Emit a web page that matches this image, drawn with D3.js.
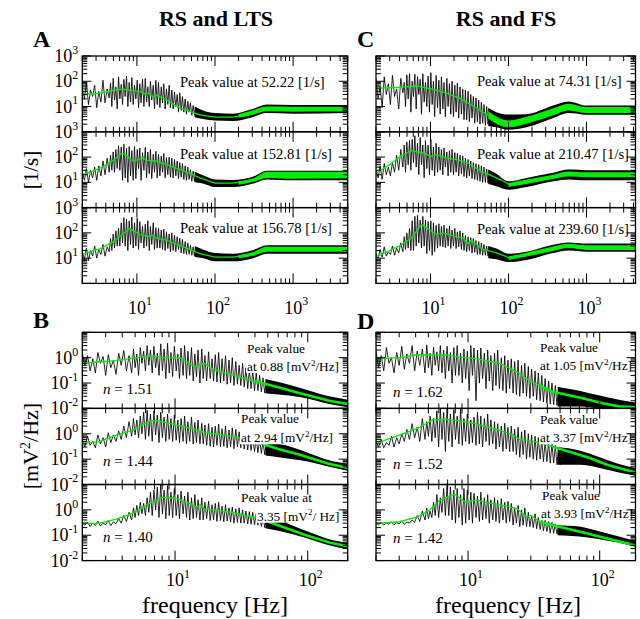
<!DOCTYPE html>
<html><head><meta charset="utf-8">
<script src="https://cdn.jsdelivr.net/npm/d3@7"></script>
<style>body{margin:0;background:#fff} text{font-family:"Liberation Serif","Times New Roman",serif;fill:#000}</style>
</head><body><svg id="c" width="640" height="619"></svg>
<script>
// ---------- frequency grids of the raw (noisy) spectra ----------
const fAC = [2.0,2.13,2.26,2.4,2.55,2.71,2.88,3.06,3.25,3.46, 3.68,3.91,4.16,4.42,4.6,4.78,4.97,5.17,5.38,5.6,
  5.82,6.05,6.3,6.55,6.81,7.08,7.37,7.66,7.97,8.29, 8.62,8.96,9.32,9.7,10.1,10.5,10.9,11.3,11.8,12.3,
  12.8,13.3,13.8,14.4,14.9,15.5,16.2,16.8,17.5,18.2, 18.9,19.7,20.5,21.3,22.1,23,23.9,24.9,25.9,26.9,
  28,29.1,30.3,31.5,32.8,34.1,35.4,36.9,38.3,39.9, 41.5,43.1,44.9,46.6,48.5,50.5,52.5,54.6,56.7,59];
const fBD = [2.0,2.09,2.19,2.29,2.4,2.51,2.62,2.74,2.87,3.0, 3.14,3.28,3.43,3.59,3.76,3.93,4.11,4.3,4.5,4.71,
  4.86,5.0,5.15,5.31,5.47,5.63,5.8,5.98,6.16,6.34, 6.53,6.73,6.93,7.14,7.35,7.57,7.8,8.03,8.27,8.52,
  8.78,9.04,9.31,9.59,9.88,10.2,10.5,10.8,11.1,11.5, 11.8,12.2,12.5,12.9,13.3,13.7,14.1,14.5,14.9,15.4,
  15.9,16.3,16.8,17.3,17.9,18.4,19,19.5,20.1,20.7, 21.3,22,22.6,23.3,24,24.7,25.5,26.2,27,27.8,
  28.7,29.5,30.4,31.3,32.3,33.2,34.2,35.3,36.3,37.4, 38.5,39.7,40.9,42.1,43.4,44.7,46,47.4,48.8,50.3];

// ---------- A: RS and LTS, rate spectra [1/s] ----------
const A1_noise = [55,20,90,12,45,25,70,9,40,15, 110,14,50,22,85,10,130,18,60,8, 150,20,75,12,120,25,160,10,90,15,
  140,12,70,20,110,9,80,14,120,10, 130,15,60,10,100,18,70,8,110,12, 90,9,60,14,80,8,50,12,70,9,
  45,8,38,10,30,6,35,7,25,6, 20,5,16,6,14,4.5,11,4.5,9,4];
const A1_green = [[2,31],[3,32],[4,38],[5,44],[6.6,49],[8,45],[11,39],[13,30],[14,35],[16,24],[18,28],[24,18],[36,8.6],[64,4.7],[100,3.8],[170,3.8],[300,5.5],[460,7.9],[1000,7.9],[5000,7.9]];
const A1_band = [[55,3.8,10],[70,3.2,7],[100,2.8,5.5],[170,2.7,5.2],[300,3.8,8],[460,5.5,12],[1000,5.2,11.5],[5000,5.5,11.5]];
const A1_gband = [[200,3.6,5],[300,4.6,7],[460,6.5,10],[1000,6.2,9.8],[5000,6.3,9.8]];

const A2_noise = [25,12,35,10,30,15,40,12,45,18, 70,20,90,25,120,30,160,25,200,35, 280,30,250,12,320,15,220,10,260,18,
  180,12,260,14,200,35,230,12,150,30, 240,15,160,22,200,14,130,25,170,15, 130,18,110,25,140,15,95,20,100,16,
  90,15,80,18,70,14,60,16,55,13, 45,12,40,13,32,11,28,11,24,10];
const A2_green = [[2,20],[2.6,26],[3.4,37],[5,74],[6.4,140],[7,130],[9,68],[10.5,80],[12,98],[13,75],[17,70],[24,50],[36,32],[64,15],[100,9.3],[170,9.3],[310,12.6],[460,20],[1000,20],[5000,20]];
const A2_band = [[55,10,26],[70,9,19],[100,6.5,13],[170,6.5,12.5],[310,9,17],[460,13,29],[1000,12,29],[5000,12,29]];
const A2_gband = [[200,8,11],[310,10.5,14.5],[460,15,26],[1000,14,26],[5000,14.5,26]];

const A3_noise = [18,9,25,8,20,12,30,10,22,14, 35,12,28,18,60,20,90,25,120,30, 150,30,250,40,400,30,350,20,300,35,
  420,25,250,30,380,22,280,40,180,25, 220,30,300,20,180,35,250,22,160,25, 150,25,130,22,140,20,110,24,90,18,
  100,20,80,18,70,22,60,16,55,15, 45,14,40,14,32,13,28,12,24,11];
const A3_green = [[2,14],[3.4,24],[5,45],[6.6,93],[8.1,148],[11,86],[14,72],[16,80],[18,62],[24,51],[36,31],[64,15],[100,11],[170,11],[310,15],[460,24],[1000,24.5],[5000,24]];
const A3_band = [[55,11,30],[70,10,22],[100,7.5,16],[170,7.5,15],[310,10,21],[460,15,32],[1000,15,32],[5000,15,32]];
const A3_gband = [[200,10,13],[310,12.5,17.5],[460,18,28],[1000,18,28],[5000,18,28]];

// ---------- C: RS and FS, rate spectra [1/s] ----------
const C1_noise = [120,20,60,9,150,30,80,12,170,25, 50,8,130,35,90,10,180,20,200,6, 100,25,190,8,150,30,120,5,200,15,
  90,10,160,6,220,12,100,4,170,9, 110,5,150,8,90,4,130,10,80,5, 100,4,70,6,85,3.5,60,5,50,3,
  45,3,40,2.5,30,3.5,25,2.2,22,2.5, 18,2,15,2.2,12,1.8,10,2,8,1.7];
const C1_green = [[2,53],[4.1,58],[6.6,65],[11,48],[16,34],[24,21],[36,10],[54,4.7],[80,2.6],[104,1.9],[170,3],[375,6.3],[590,10],[1000,7.4],[4250,7.4]];
const C1_band = [[55,1.7,9],[70,1.5,6],[100,1.2,4.8],[170,1.5,5],[375,3.5,11],[590,5.5,16],[1000,4.7,11],[4250,4.7,11]];
const C1_gband = [[55,3.3,6.5],[100,1.5,2.8],[170,2.1,3.9],[375,4.5,8.5],[590,7,13],[1000,5.5,9.5],[4250,5.5,9.5]];

const C2_noise = [30,15,45,13,55,20,40,18,60,25, 120,30,200,40,300,25,400,50,450,30, 500,60,700,40,350,20,600,50,300,15,
  450,35,300,20,500,30,250,18,350,25, 250,30,200,20,230,40,160,18,180,25, 200,20,150,25,140,18,120,22,110,17,
  90,15,80,18,70,14,60,13,55,12, 50,11,45,10,40,10,34,9.5,30,9];
const C2_green = [[2,23],[3,50],[4.1,107],[5.7,180],[8.1,145],[10,107],[12,125],[16,92],[22,80],[30,58],[45,27],[80,12.6],[104,8],[170,11],[375,17],[590,22],[1000,20],[4250,20]];
const C2_band = [[55,8.5,32],[70,7,22],[100,5.1,11],[170,6.5,15],[375,11,24],[590,13,32],[1000,12,30],[4250,12,30]];
const C2_gband = [[100,6.5,9.5],[170,8.5,13],[375,13.5,20],[590,17,27],[1000,16,25],[4250,16,25]];

const C3_noise = [15,10,22,11,28,12,18,14,30,13, 25,16,40,18,70,22,100,25,150,20, 300,20,450,30,500,40,320,25,450,30,
  320,15,280,20,300,13,250,18,200,25, 230,30,180,28,200,26,150,30,190,24, 130,30,150,24,110,28,120,22,100,20,
  80,18,70,20,65,16,60,17,50,14, 45,14,40,13,35,13,30,12,28,11];
const C3_green = [[2,11],[3,20],[4.1,32],[5.7,63],[7,148],[7.7,215],[10,125],[12,85],[14.5,100],[20,74],[26,63],[30,38],[33,50],[45,24],[80,14],[104,10],[170,14],[375,24],[590,31],[1000,26],[4250,26]];
const C3_band = [[55,10,30],[70,9,24],[100,7,15],[170,8.5,18],[375,16,34],[590,20,42],[1000,18,38],[4250,18,38]];
const C3_gband = [[100,8.5,11.5],[170,11.5,16.5],[375,19,29],[590,25,37],[1000,21,32],[4250,21,32]];

// ---------- B: RS and LTS, LFP power [mV^2/Hz] ----------
const B1_noise = [1.5,0.5,1.2,0.3,0.9,0.25,1.6,0.6,1.1,0.2, 1.3,0.4,0.8,0.22,1.5,0.5,1.9,0.3,1.2,0.25,
  2.2,0.4,1.4,0.2,2.5,0.6,1.8,0.3,3.0,0.5, 2.0,0.25,2.8,0.4,1.5,0.2,3.5,0.3,2.2,0.15,
  3.7,0.25,1.6,0.18,2.8,0.3,1.4,0.15,2.4,0.2, 3.0,0.15,1.8,0.2,2.5,0.12,1.4,0.18,2.0,0.1,
  2.2,0.15,1.2,0.12,1.7,0.15,0.9,0.12,1.3,0.11, 1.6,0.1,0.9,0.12,1.2,0.09,0.8,0.1,1.0,0.08,
  0.7,0.09,0.5,0.08,0.6,0.07,0.4,0.06,0.35,0.06, 0.3,0.05,0.25,0.05,0.2,0.045,0.16,0.04,0.14,0.04];
const B1_green = [[2,0.6],[2.7,0.69],[3.6,0.76],[4.8,0.95],[6.5,1.17],[8.6,1.0],[11,0.95],[12.3,0.69],[14,0.44],[16.6,0.6],[19.6,0.33],[27,0.21],[39,0.12],[58,0.072],[87,0.04],[145,0.02],[200,0.015]];
const B1_band = [[48,0.04,0.14],[60,0.035,0.11],[87,0.028,0.065],[145,0.015,0.03],[200,0.011,0.022]];

const B2_noise = [0.6,0.3,0.8,0.35,0.5,0.28,0.9,0.4,0.7,0.3, 1.1,0.45,0.9,0.5,1.3,0.6,2.0,0.7,3.0,0.8,
  4.0,0.9,3.5,0.7,5.0,1.0,7.0,0.6,8.5,0.8, 6.0,0.5,8.0,0.9,5.5,0.45,7.0,0.7,4.5,0.5,
  6.0,0.6,4.0,0.5,5.5,0.55,3.5,0.45,4.0,0.5, 5.0,0.4,3.0,0.5,4.5,0.4,2.8,0.45,3.5,0.4,
  2.6,0.4,2.2,0.35,2.5,0.32,1.8,0.3,2.0,0.35, 2.4,0.3,1.6,0.32,2.0,0.28,1.4,0.3,1.7,0.26,
  1.5,0.3,1.2,0.28,1.0,0.25,0.9,0.23,0.8,0.22, 0.7,0.2,0.65,0.18,0.6,0.17,0.5,0.15,0.45,0.14];
const B2_green = [[2,0.42],[2.7,0.49],[3.6,0.89],[4.8,1.4],[6.5,3.2],[7.1,3.4],[9,2.6],[11.6,1.9],[13.5,1.6],[16,1.2],[19.6,1.0],[27,0.8],[40,0.5],[60,0.25],[87,0.15],[145,0.065],[200,0.045]];
const B2_band = [[48,0.14,0.45],[60,0.12,0.4],[100,0.08,0.18],[145,0.05,0.09],[200,0.035,0.065]];

const B3_noise = [0.3,0.25,0.33,0.22,0.3,0.24,0.36,0.23,0.3,0.26, 0.38,0.24,0.34,0.28,0.45,0.3,0.6,0.35,0.8,0.4,
  1.2,0.5,1.5,0.6,2.0,0.7,1.8,0.6,3.0,0.8, 5.0,0.6,6.0,1.0,8.0,0.5,10,0.7,6.0,0.45,
  9.0,0.6,5.0,0.5,7.0,0.6,4.0,0.45,5.5,0.7, 3.5,0.5,5.0,0.4,3.0,0.45,4.0,0.5,2.5,0.4,
  3.0,0.4,2.0,0.45,2.2,0.38,1.6,0.4,1.8,0.35, 2.0,0.38,1.4,0.34,1.6,0.36,1.2,0.33,1.3,0.3,
  1.1,0.32,1.2,0.3,1.0,0.3,0.9,0.28,0.85,0.27, 0.8,0.26,0.7,0.25,0.65,0.22,0.55,0.2,0.5,0.19];
const B3_green = [[2,0.29],[2.7,0.3],[3.6,0.43],[4.8,0.72],[6.1,1.55],[8.1,3.2],[10.3,2.8],[12.9,1.8],[14.5,1.3],[15.5,1.6],[16.6,1.1],[27,0.79],[43,0.46],[65,0.21],[97,0.1],[145,0.052],[200,0.037]];
const B3_band = [[48,0.19,0.5],[60,0.15,0.38],[100,0.075,0.14],[145,0.04,0.07],[200,0.028,0.05]];

// ---------- D: RS and FS, LFP power [mV^2/Hz] ----------
const D1_noise = [1.8,0.4,1.2,0.3,2.5,0.6,1.0,0.25,1.6,0.5, 2.8,0.35,1.4,0.6,3.0,0.3,1.8,0.5,2.2,0.25,
  3.2,0.4,1.5,0.2,2.6,0.5,1.7,0.3,3.0,0.25, 2.0,0.15,2.8,0.3,1.6,0.1,2.5,0.2,3.0,0.2,
  1.5,0.1,2.2,0.15,1.8,0.05,3.0,0.2,2.4,0.02, 2.0,0.1,2.4,0.15,1.5,0.06,2.0,0.12,1.2,0.05,
  1.5,0.08,2.0,0.06,1.0,0.05,1.2,0.04,0.8,0.06, 0.9,0.04,0.7,0.035,0.8,0.03,0.5,0.04,0.6,0.03,
  0.45,0.025,0.35,0.03,0.3,0.022,0.25,0.02,0.2,0.018, 0.15,0.016,0.12,0.015,0.1,0.014,0.08,0.013,0.07,0.012];
const D1_green = [[2,0.89],[3,1.0],[4.1,1.3],[5.4,1.25],[6.8,1.3],[8.6,1.05],[10.9,0.95],[13.8,0.74],[17.4,0.6],[20.7,0.38],[24.7,0.24],[27.7,0.15],[35,0.078],[44,0.045],[55,0.035],[74,0.025],[105,0.016],[140,0.012],[187,0.011]];
const D1_band = [[48,0.012,0.07],[70,0.012,0.05],[100,0.01,0.032],[140,0.009,0.022],[187,0.008,0.017]];

const D2_noise = [0.5,0.3,0.6,0.28,0.45,0.35,0.8,0.3,0.7,0.4, 1.0,0.5,1.5,0.6,2.5,0.7,1.8,0.5,4.0,0.6,
  3.0,0.8,5.0,0.5,4.0,0.7,8.0,0.3,10,0.6, 7.0,0.2,12,0.5,6.0,0.3,9.0,0.6,5.0,0.4,
  10,0.35,4.0,0.5,6.0,0.4,3.5,0.45,4.5,0.35, 7.0,0.4,5.0,0.3,4.0,0.5,6.0,0.35,3.5,0.4,
  3.0,0.25,2.5,0.3,2.0,0.2,2.6,0.25,1.8,0.2, 2.0,0.2,1.5,0.15,1.8,0.12,1.2,0.15,1.4,0.1,
  1.0,0.12,0.9,0.1,0.8,0.09,0.7,0.1,0.6,0.08, 0.5,0.08,0.45,0.07,0.4,0.07,0.35,0.06,0.3,0.06];
const D2_green = [[2,0.42],[3,0.89],[4.1,1.6],[5.4,3.5],[6.8,3.7],[8.6,3.2],[10.9,2.6],[13.8,1.9],[17.4,1.4],[22,0.89],[24.7,0.6],[31,0.51],[44,0.31],[84,0.11],[115,0.059],[187,0.03]];
const D2_band = [[48,0.06,0.3],[70,0.06,0.22],[100,0.045,0.12],[140,0.03,0.065],[187,0.022,0.045]];

const D3_noise = [0.3,0.26,0.32,0.25,0.3,0.27,0.34,0.26,0.31,0.28, 0.36,0.27,0.33,0.3,0.4,0.32,0.6,0.35,0.9,0.4,
  1.2,0.45,0.9,0.5,2.0,0.6,4.0,0.5,3.0,0.8, 7.0,0.6,10,0.6,8.0,0.4,6.0,0.3,7.0,0.5,
  4.0,0.25,7.0,0.3,6.0,0.4,5.0,0.3,4.5,0.5, 3.5,0.35,5.0,0.4,3.0,0.45,4.0,0.3,2.5,0.4,
  3.0,0.35,2.4,0.3,2.8,0.4,2.0,0.3,2.2,0.35, 1.8,0.25,1.2,0.3,1.5,0.22,1.0,0.25,1.2,0.22,
  0.8,0.22,0.6,0.2,0.7,0.18,0.5,0.17,0.45,0.15, 0.4,0.14,0.35,0.12,0.32,0.12,0.28,0.11,0.25,0.1];
const D3_green = [[2,0.29],[3,0.34],[4.1,0.52],[5.1,0.97],[6.1,2.4],[7.9,4.1],[9.6,2.0],[11.6,2.4],[14.8,1.8],[18.6,1.5],[23.6,1.1],[28,0.52],[30,0.6],[35,0.34],[50,0.21],[79,0.12],[126,0.065],[187,0.04]];
const D3_band = [[48,0.1,0.25],[70,0.09,0.22],[100,0.07,0.14],[140,0.05,0.09],[187,0.035,0.06]];

// ---------- labels ----------
const peakA = ["52.22","152.81","156.78"];
const peakC = ["74.31","210.47","239.60"];
const peakB = ["0.88","2.94","3.35"];
const peakD = ["1.05","3.37","3.93"];
const nB = ["1.51","1.44","1.40"];
const nD = ["1.62","1.52","1.42"];
const xTicksAC = [10,100,1000], xTicksBD = [10,100];
const yTicksAC = [10,100,1000], yTicksBD = [0.01,0.1,1];

const GREEN = "#00ee00";
const svg = d3.select("#c");

const panels = [
  {key:"A", x0:82.3, x1:347.7, fdom:[2,5000], ydom:[1,1000], tops:[56,131.8,207.6], h:75.8, freqs:fAC,
   rows:[[A1_noise,A1_green,A1_band,A1_gband],[A2_noise,A2_green,A2_band,A2_gband],[A3_noise,A3_green,A3_band,A3_gband]],
   xt:xTicksAC, yt:yTicksAC, ylab:true, xlabBase:313.5, kind:"rate"},
  {key:"C", x0:376, x1:635.5, fdom:[2,4250], ydom:[1,1000], tops:[56,131.8,207.6], h:75.8, freqs:fAC,
   rows:[[C1_noise,C1_green,C1_band,C1_gband],[C2_noise,C2_green,C2_band,C2_gband],[C3_noise,C3_green,C3_band,C3_gband]],
   xt:xTicksAC, yt:yTicksAC, ylab:false, xlabBase:313.5, kind:"rate"},
  {key:"B", x0:82.3, x1:347.7, fdom:[2,200], ydom:[0.01,10], tops:[332.3,408.4,484.5], h:76.1, freqs:fBD,
   rows:[[B1_noise,B1_green,B1_band,null],[B2_noise,B2_green,B2_band,null],[B3_noise,B3_green,B3_band,null]],
   xt:xTicksBD, yt:yTicksBD, ylab:true, xlabBase:586, kind:"lfp"},
  {key:"D", x0:376, x1:635.5, fdom:[2,187], ydom:[0.01,10], tops:[332.3,408.4,484.5], h:76.1, freqs:fBD,
   rows:[[D1_noise,D1_green,D1_band,null],[D2_noise,D2_green,D2_band,null],[D3_noise,D3_green,D3_band,null]],
   xt:xTicksBD, yt:yTicksBD, ylab:false, xlabBase:586, kind:"lfp"}
];

function pow10(sel, exp, size){
  sel.append("tspan").text("10");
  sel.append("tspan").attr("dy", -size*0.45).attr("font-size", size*0.66).text(exp);
}
function logTicks(dom){
  const out=[]; const lo=Math.floor(Math.log10(dom[0])), hi=Math.ceil(Math.log10(dom[1]));
  for(let d=lo; d<=hi; d++) for(let m=1;m<=9;m++){ const v=m*Math.pow(10,d); if(v>=dom[0]*0.999 && v<=dom[1]*1.001) out.push({v, major:m===1}); }
  return out;
}

let clipN = 0;
panels.forEach(p=>{
  const x = d3.scaleLog().domain(p.fdom).range([p.x0,p.x1]);
  p.rows.forEach((r,i)=>{
    const [noise, green, band, gband] = r;
    const top = p.tops[i], bot = top + p.h;
    const y = d3.scaleLog().domain(p.ydom).range([bot, top]);
    const id = "clip"+(clipN++);
    svg.append("clipPath").attr("id",id).append("rect").attr("x",p.x0).attr("y",top).attr("width",p.x1-p.x0).attr("height",p.h);
    const g = svg.append("g").attr("clip-path",`url(#${id})`);
    const area = d3.area().curve(d3.curveMonotoneX).x(d=>x(d[0])).y0(d=>y(d[1])).y1(d=>y(d[2]));
    g.append("path").datum(band).attr("fill","#000").attr("d", area);
    const pts = p.freqs.map((f,k)=>[f, noise[k]]).filter(d=>d[1]!=null);
    g.append("path").datum(pts).attr("fill","none").attr("stroke","#000").attr("stroke-width",0.85)
      .attr("d", d3.line().x(d=>x(d[0])).y(d=>y(d[1])));
    if (gband) g.append("path").datum(gband).attr("fill",GREEN).attr("d", area);
    const gl = d3.line().x(d=>x(d[0])).y(d=>y(d[1]));
    g.append("path").datum(green).attr("fill","none").attr("stroke",GREEN).attr("stroke-width",1.3).attr("d", gl);
    if (p.kind==="lfp") g.append("path").datum(green.filter(d=>d[0]>=35)).attr("fill","none")
      .attr("stroke",GREEN).attr("stroke-width",2.6).attr("d", gl);

    // annotations
    const ann = svg.append("g");
    if (p.kind==="rate"){
      const vals = p.key==="A"?peakA:peakC;
      const base = p.key==="A"?[87.3,159.3,232.7]:[86,159.3,234];
      const x0 = p.key==="A"?180:477;
      ann.append("text").attr("x",x0).attr("y",base[i]).attr("font-size",14.6)
        .text(`Peak value at ${vals[i]} [1/s]`);
    } else {
      const isB = p.key==="B";
      const vals = isB?peakB:peakD, ns = isB?nB:nD;
      const posAll = isB?[[247,353.3,247,371],[241,423.3,241,442.3],[241,501.7,257,520.7]]
                        :[[540,352.3,540,370],[540,424,540,442.3],[542,500,541,518.3]];
      const pos = posAll[i];
      const lines = [];
      if (isB && i===2){
        lines.push(["Peak value at", pos[0], pos[1], null]);
        lines.push([vals[i]+" [mV", pos[2], pos[3], "/ Hz]"]);
      } else {
        lines.push(["Peak value", pos[0], pos[1], null]);
        lines.push(["at "+vals[i]+" [mV", pos[2], pos[3], "/Hz]"]);
      }
      lines.forEach(L=>{
        const t = ann.append("text").attr("x",L[1]).attr("y",L[2]).attr("font-size",13.3);
        t.append("tspan").text(L[0]);
        if (L[3]){ t.append("tspan").attr("dy",-5.5).attr("font-size",9).text("2"); t.append("tspan").attr("dy",5.5).text(L[3]); }
        const bb = t.node().getBBox();
        ann.insert("rect","text").attr("x",bb.x-1).attr("y",bb.y+1).attr("width",bb.width+2).attr("height",bb.height-2).attr("fill","#fff");
      });
      const nx = isB?103:393;
      const nb = isB?[394,466,542.3]:[396.7,469.3,543.3];
      const t = ann.append("text").attr("x",nx).attr("y",nb[i]).attr("font-size",15);
      t.append("tspan").attr("font-style","italic").text("n");
      t.append("tspan").text(" = "+ns[i]);
    }

    // frame and ticks
    const fr = svg.append("g").attr("stroke","#000").attr("fill","none");
    fr.append("rect").attr("x",p.x0).attr("y",top).attr("width",p.x1-p.x0).attr("height",p.h).attr("stroke-width",1.3);
    logTicks(p.fdom).forEach(t=>{
      const xx = x(t.v), L = t.major?10:5;
      fr.append("line").attr("x1",xx).attr("x2",xx).attr("y1",bot).attr("y2",bot-L).attr("stroke-width",1);
      fr.append("line").attr("x1",xx).attr("x2",xx).attr("y1",top).attr("y2",top+L).attr("stroke-width",1);
    });
    logTicks(p.ydom).forEach(t=>{
      const yy = y(t.v), L = t.major?9:5;
      fr.append("line").attr("x1",p.x0).attr("x2",p.x0+L).attr("y1",yy).attr("y2",yy).attr("stroke-width",1);
      fr.append("line").attr("x1",p.x1).attr("x2",p.x1-L).attr("y1",yy).attr("y2",yy).attr("stroke-width",1);
    });
    if (p.ylab){
      p.yt.forEach(v=>{
        const t = svg.append("text").attr("x",p.x0-4).attr("y",y(v)+6).attr("text-anchor","end").attr("font-size",18);
        pow10(t, String(Math.round(Math.log10(v))), 18);
      });
    }
    if (i===2){
      p.xt.forEach(v=>{
        const t = svg.append("text").attr("x",x(v)+3).attr("y",p.xlabBase).attr("text-anchor","middle").attr("font-size",18);
        pow10(t, String(Math.round(Math.log10(v))), 18);
      });
    }
  });
});

// titles, panel letters, axis titles
svg.append("text").attr("x",216).attr("y",26).attr("text-anchor","middle").attr("font-size",22).attr("font-weight","bold").text("RS and LTS");
svg.append("text").attr("x",506).attr("y",26).attr("text-anchor","middle").attr("font-size",22).attr("font-weight","bold").text("RS and FS");
[["A",33,47],["C",357,47],["B",33,328],["D",357,329]].forEach(d=>{
  svg.append("text").attr("x",d[1]).attr("y",d[2]).attr("font-size",24).attr("font-weight","bold").text(d[0]);
});
svg.append("text").attr("transform","translate(38,170) rotate(-90)").attr("text-anchor","middle").attr("font-size",21).text("[1/s]");
const yl = svg.append("text").attr("transform","translate(38,446) rotate(-90)").attr("text-anchor","middle").attr("font-size",22);
yl.append("tspan").text("[mV");
yl.append("tspan").attr("dy",-8).attr("font-size",14).text("2");
yl.append("tspan").attr("dy",8).text("/Hz]");
svg.append("text").attr("x",215).attr("y",613).attr("text-anchor","middle").attr("font-size",24).text("frequency [Hz]");
svg.append("text").attr("x",508).attr("y",613).attr("text-anchor","middle").attr("font-size",24).text("frequency [Hz]");
</script></body></html>
